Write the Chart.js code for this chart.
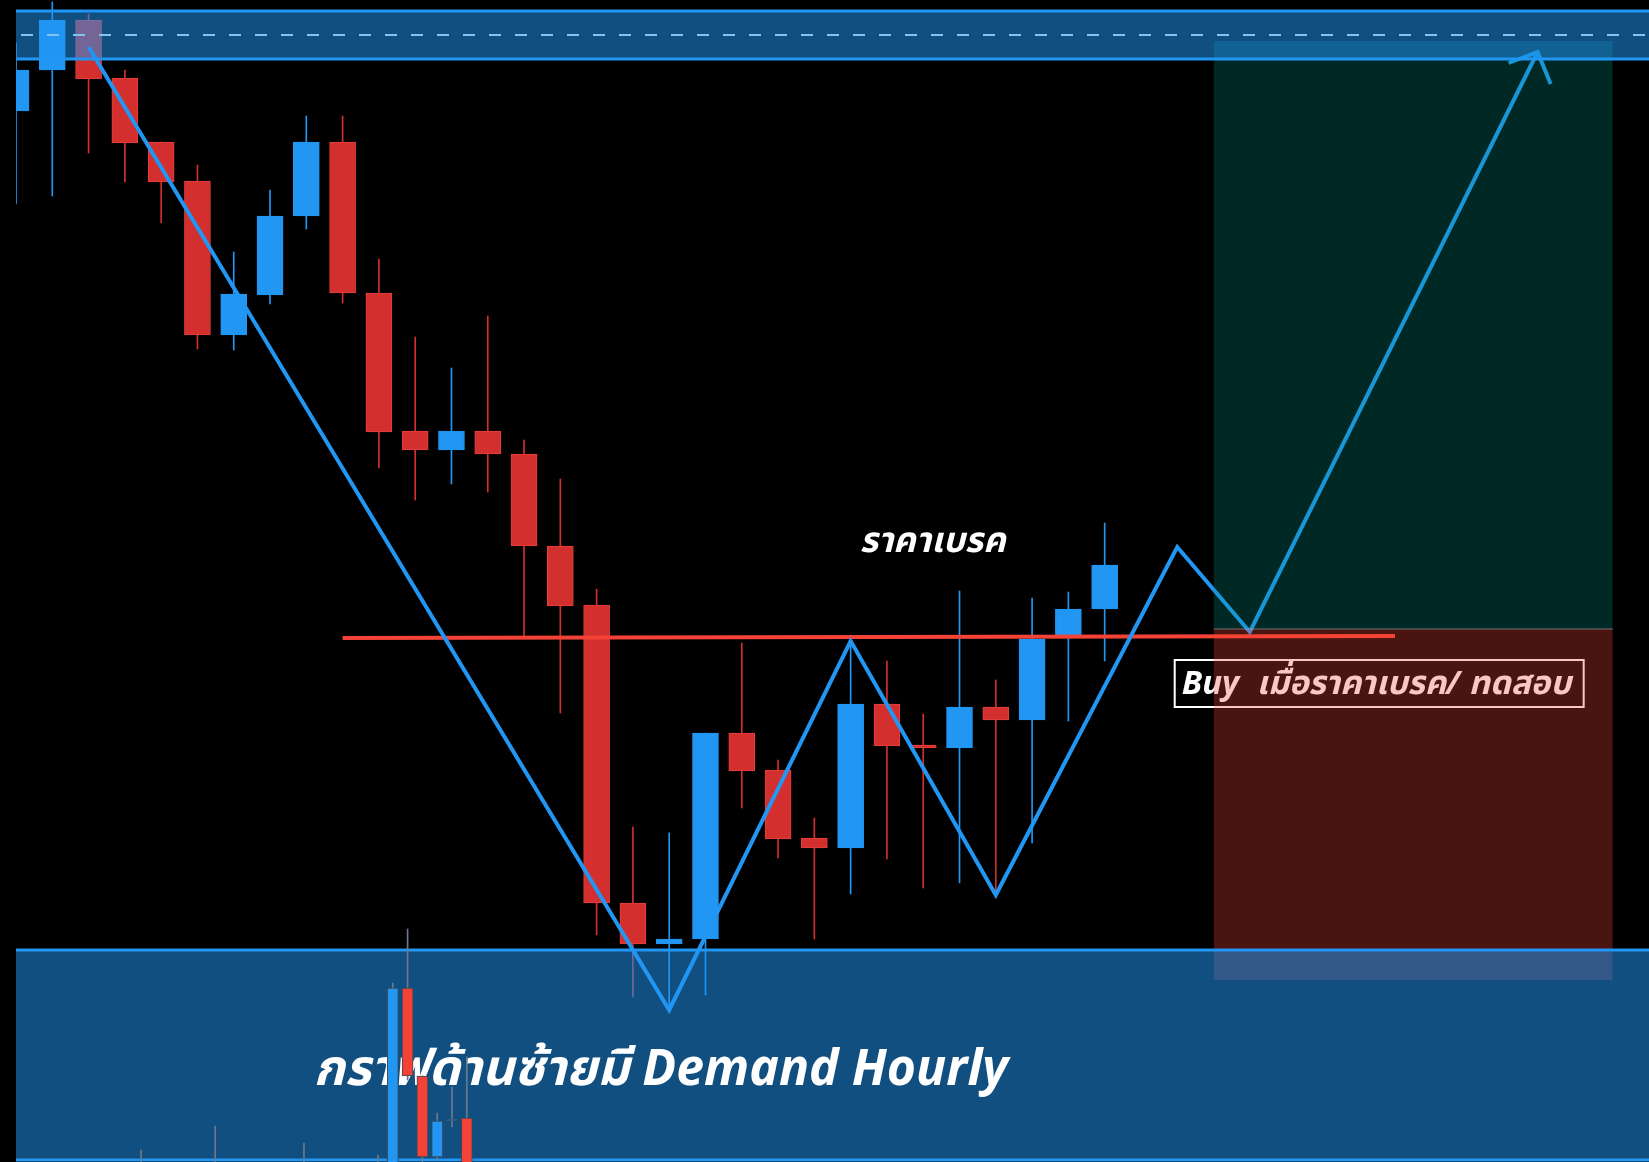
<!DOCTYPE html>
<html lang="th">
<head>
    <meta charset="UTF-8">
    <title>Demand Hourly</title>

    <script src="https://cdn.jsdelivr.net/npm/chart.js@4.4.8/dist/chart.umd.min.js"></script>

    <style>
        html, body {
            margin: 0;
            padding: 0;
            background-color: #000;
        }
        #wrap {
            width: 1649px;
            height: 1162px;
        }
    </style>
</head>
<body>

    <div id="wrap"><canvas id="myChart" width="1649" height="1162"></canvas></div>

<script>

    // 4H candles (bar number, OHLC)
    const bars   = [0, 1, 2, 3, 4, 5, 6, 7, 8, 9, 10, 11, 12, 13, 14, 15, 16, 17, 18, 19, 20, 21, 22, 23, 24, 25, 26, 27, 28, 29, 30]
    const opens  = [2033.9, 2038.0, 2043.0, 2037.2, 2030.8, 2026.9, 2011.5, 2015.5, 2023.4, 2030.8, 2015.7, 2001.9, 2000.0, 2001.9, 1999.6, 1990.4,
                    1984.5, 1954.7, 1950.6, 1951.1, 1971.7, 1968.0, 1961.2, 1960.2, 1974.6, 1970.5, 1970.2, 1974.3, 1973.0, 1981.5, 1984.1]
    const highs  = [2040.7, 2044.8, 2043.6, 2038.0, 2030.8, 2028.5, 2019.8, 2026.0, 2033.4, 2033.4, 2019.1, 2011.3, 2008.2, 2013.4, 2001.0, 1997.1,
                    1986.1, 1962.3, 1961.7, 1971.7, 1980.7, 1969.0, 1963.2, 1980.8, 1978.9, 1973.6, 1985.9, 1977.0, 1985.2, 1985.8, 1992.7]
    const lows   = [2024.6, 2025.4, 2029.7, 2026.8, 2022.7, 2010.1, 2010.0, 2014.6, 2022.1, 2014.7, 1998.2, 1995.0, 1996.6, 1995.8, 1981.4, 1973.7,
                    1951.5, 1945.3, 1944.0, 1945.5, 1964.2, 1959.2, 1951.1, 1955.6, 1959.1, 1956.2, 1956.7, 1955.3, 1960.7, 1972.9, 1978.9]
    const closes = [2038.0, 2043.0, 2037.1, 2030.7, 2026.8, 2011.5, 2015.6, 2023.4, 2030.8, 2015.7, 2001.8, 2000.0, 2001.9, 1999.6, 1990.4, 1984.4,
                    1954.7, 1950.6, 1951.1, 1971.7, 1967.9, 1961.1, 1960.2, 1974.6, 1970.4, 1970.2, 1974.3, 1973.0, 1981.1, 1984.1, 1988.5]

    // hourly candles shown inside the demand zone
    const hBars   = [0, 5, 11, 16, 17, 18, 19, 20, 21, 22]
    const hOpens  = [1927.0, 1927.2, 1927.4, 1927.0, 1925.0, 1946.2, 1937.4, 1929.3, 1932.9, 1933.2]
    const hHighs  = [1930.0, 1932.4, 1930.7, 1929.5, 1946.7, 1952.1, 1937.4, 1933.7, 1936.3, 1939.3]
    const hLows   = [1925.5, 1925.8, 1926.0, 1925.6, 1924.0, 1937.0, 1928.0, 1929.0, 1932.3, 1925.0]
    const hCloses = [1927.9, 1928.0, 1928.2, 1927.8, 1946.2, 1937.4, 1929.3, 1932.9, 1933.1, 1926.0]

    // zones and levels
    const supplyZone = [2043.9, 2039.1]
    const supplyMid = 2041.5
    const demandZone = [1950.0, 1929.0]
    const breakLineX = [9, 38]
    const breakLineY = [1981.2, 1981.4]

    // projected path
    const pathX = [2, 18, 23, 27, 32, 34, 41.93]
    const pathY = [2040.3, 1944.0, 1980.9, 1955.5, 1990.3, 1981.8, 2039.8]
    const arrowX = [41.13, 41.93, 42.29]
    const arrowY = [2038.7, 2039.8, 2036.6]

    // long position box
    const posFrom = 33
    const posTo = 44
    const target = 2040.9
    const entry = 1982.1
    const stop = 1947.0

    // notes
    const breakNote = { text: 'ราคาเบรค', x: 25.26, y: 1990.8 }
    const buyNote = { text: 'Buy  เมื่อราคาเบรค/ ทดสอบ', x0: 31.93, x1: 43.2, top: 1979.0, bottom: 1974.3 }
    const demandNote = { text: 'กราฟด้านซ้ายมี Demand Hourly', x: 8.2, y: 1937.9 }


    const UP = '#2196f3'
    const DOWN = '#d32f2f'
    const ZONE = 'rgba(33, 150, 243, 0.53)'
    const FONT = '"Noto Sans", "Noto Sans Thai", sans-serif'

    const upAt = i => closes[i] >= opens[i]
    const hUpAt = i => hCloses[i] >= hOpens[i]
    const pts = (xs, ys) => xs.map((x, i) => ({ x: x, y: ys[i] }))
    const hline = (x0, x1, y) => [{ x: x0, y: y }, { x: x1, y: y }]


    const notes = {
        id: 'notes',
        afterDatasetDraw(chart, args) {
            const label = chart.data.datasets[args.index].label
            const ctx = chart.ctx
            const x = chart.scales.x
            const y = chart.scales.y

            ctx.save()
            ctx.fillStyle = '#fff'
            ctx.textBaseline = 'middle'

            if (label === 'path') {
                ctx.font = 'italic bold 35px ' + FONT
                ctx.textAlign = 'center'
                ctx.fillText(breakNote.text, x.getPixelForValue(breakNote.x), y.getPixelForValue(breakNote.y))

                const left = x.getPixelForValue(buyNote.x0)
                const right = x.getPixelForValue(buyNote.x1)
                const top = y.getPixelForValue(buyNote.top)
                const bottom = y.getPixelForValue(buyNote.bottom)
                ctx.strokeStyle = '#fff'
                ctx.lineWidth = 2
                ctx.strokeRect(left, top, right - left, bottom - top)
                ctx.font = 'italic bold 33px ' + FONT
                ctx.textAlign = 'left'
                ctx.fillText(buyNote.text, left + 7, (top + bottom) / 2 + 1)
            }

            if (label === 'supply mid') {
                ctx.font = 'italic bold 50px ' + FONT
                ctx.textAlign = 'left'
                ctx.fillText(demandNote.text, x.getPixelForValue(demandNote.x), y.getPixelForValue(demandNote.y))
            }
            ctx.restore()
        }
    }


    const ctx = document.getElementById('myChart')
    const chart = new Chart(ctx, {
        type: 'bar',
        data: {
            datasets: [
                {
                    label: 'hourly bodies',
                    xAxisID: 'xh',
                    data: hBars.map((b, i) => ({ x: b, y: [hOpens[i], hCloses[i]] })),
                    backgroundColor: c => hUpAt(c.dataIndex) ? UP : '#f44336',
                    borderColor: '#3b4a58',
                    borderWidth: 1,
                    borderSkipped: false,
                    barThickness: 11,
                    grouped: false,
                    clip: 0,
                    order: 1
                },
                {
                    label: 'hourly wicks',
                    xAxisID: 'xh',
                    data: hBars.map((b, i) => ({ x: b, y: [hLows[i], hHighs[i]] })),
                    backgroundColor: '#6c7a87',
                    barThickness: 1,
                    grouped: false,
                    clip: 0,
                    order: 2
                },
                {
                    type: 'line',
                    label: 'supply mid',
                    data: hline(0, 45, supplyMid),
                    borderColor: '#86c2f0',
                    borderWidth: 2,
                    borderDash: [12, 14],
                    borderDashOffset: -5,
                    pointRadius: 0,
                    fill: false,
                    order: 3
                },
                {
                    type: 'line',
                    label: 'supply bottom',
                    data: hline(0, 45, supplyZone[1]),
                    borderColor: UP,
                    borderWidth: 3,
                    pointRadius: 0,
                    fill: false,
                    order: 4
                },
                {
                    type: 'line',
                    label: 'supply top',
                    data: hline(0, 45, supplyZone[0]),
                    borderColor: UP,
                    borderWidth: 3,
                    pointRadius: 0,
                    backgroundColor: ZONE,
                    fill: { value: supplyZone[1] },
                    order: 5
                },
                {
                    type: 'line',
                    label: 'demand bottom',
                    data: hline(0, 45, demandZone[1]),
                    borderColor: UP,
                    borderWidth: 3,
                    pointRadius: 0,
                    fill: false,
                    order: 6
                },
                {
                    type: 'line',
                    label: 'demand top',
                    data: hline(0, 45, demandZone[0]),
                    borderColor: UP,
                    borderWidth: 3,
                    pointRadius: 0,
                    backgroundColor: ZONE,
                    fill: { value: demandZone[1] },
                    order: 7
                },
                {
                    type: 'line',
                    label: 'stop',
                    data: hline(posFrom, posTo, entry),
                    borderColor: 'rgba(170, 170, 170, 0.6)',
                    borderWidth: 1,
                    pointRadius: 0,
                    backgroundColor: 'rgba(244, 67, 54, 0.3)',
                    fill: { value: stop },
                    order: 8
                },
                {
                    type: 'line',
                    label: 'target',
                    data: hline(posFrom, posTo, target),
                    borderWidth: 0,
                    pointRadius: 0,
                    backgroundColor: 'rgba(0, 150, 136, 0.27)',
                    fill: { value: entry },
                    order: 9
                },
                {
                    type: 'line',
                    label: 'path',
                    data: pts(pathX, pathY),
                    borderColor: UP,
                    borderWidth: 4,
                    borderJoinStyle: 'miter',
                    pointRadius: 0,
                    fill: false,
                    order: 10
                },
                {
                    type: 'line',
                    label: 'arrow',
                    data: pts(arrowX, arrowY),
                    borderColor: UP,
                    borderWidth: 4,
                    borderJoinStyle: 'miter',
                    pointRadius: 0,
                    fill: false,
                    order: 11
                },
                {
                    type: 'line',
                    label: 'break',
                    data: pts(breakLineX, breakLineY),
                    borderColor: '#f44336',
                    borderWidth: 4,
                    pointRadius: 0,
                    fill: false,
                    order: 12
                },
                {
                    label: 'bodies',
                    data: bars.map((b, i) => ({ x: b, y: [opens[i], closes[i]] })),
                    backgroundColor: c => upAt(c.dataIndex) ? UP : DOWN,
                    borderColor: c => upAt(c.dataIndex) ? UP : '#e8403a',
                    borderWidth: 1,
                    borderSkipped: false,
                    barThickness: 26,
                    grouped: false,
                    clip: 0,
                    order: 13
                },
                {
                    label: 'wicks',
                    data: bars.map((b, i) => ({ x: b, y: [lows[i], highs[i]] })),
                    backgroundColor: c => upAt(c.dataIndex) ? UP : DOWN,
                    barThickness: 1,
                    grouped: false,
                    clip: 0,
                    order: 14
                }
            ]
        },
        options: {
            responsive: false,
            animation: false,
            layout: { padding: { left: 16, right: 0, top: 0, bottom: 0 } },
            scales: {
                x: { type: 'linear', min: 0, max: 45, offset: false, display: false },
                xh: { type: 'linear', axis: 'x', min: -8.45, max: 101.85, offset: false, display: false },
                y: { type: 'linear', min: 1928.8, max: 2045, display: false }
            },
            plugins: {
                legend: { display: false },
                tooltip: { enabled: false }
            }
        },
        plugins: [notes]
    })

</script>
</body>
</html>
